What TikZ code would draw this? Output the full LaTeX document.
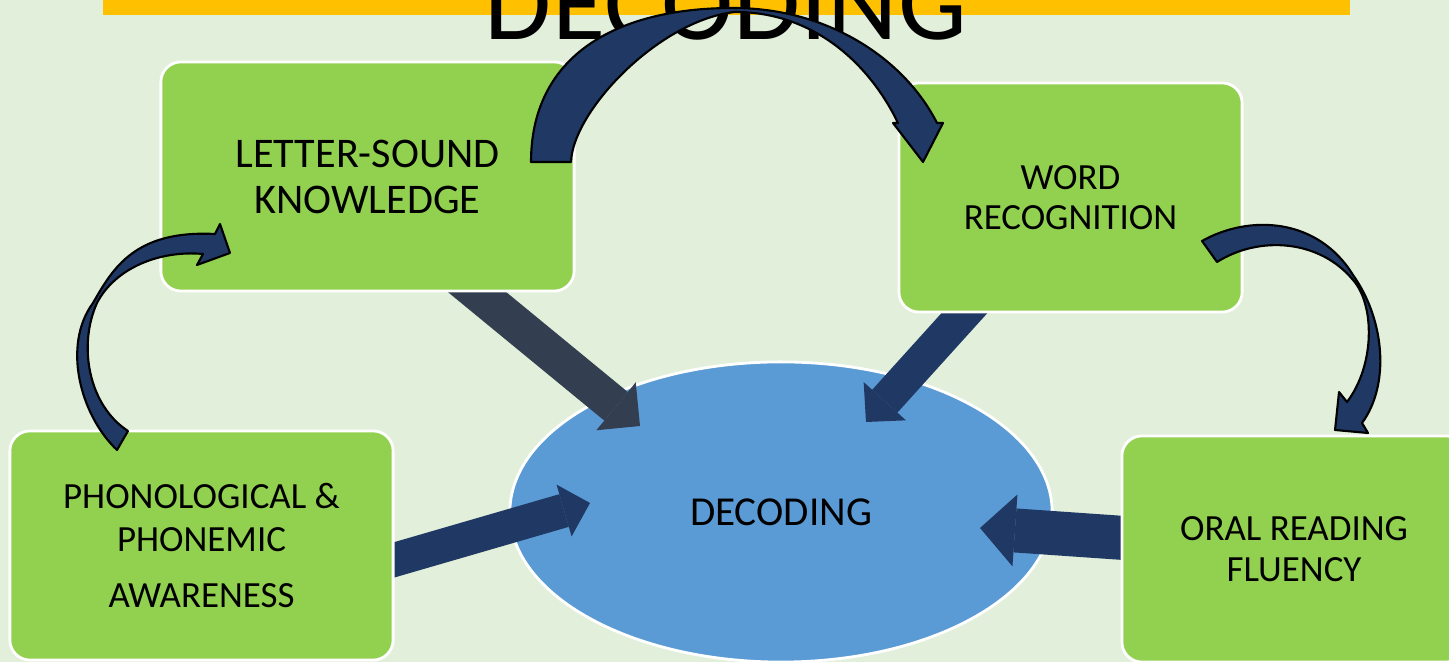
\documentclass[tikz,border=0pt]{standalone}
\usepackage{fontspec}
\setmainfont{Carlito}
\usetikzlibrary{arrows.meta, calc, shapes.geometric}
\definecolor{bgcol}{HTML}{E2EFDA}
\definecolor{barcol}{HTML}{FFC000}
\definecolor{boxgreen}{HTML}{92D050}
\definecolor{ovalblue}{HTML}{5B9BD5}
\definecolor{navy}{HTML}{1F3864}
\definecolor{slate}{HTML}{333F50}
\pgfdeclarelayer{back}
\pgfdeclarelayer{mid}
\pgfsetlayers{back,mid,main}
\tikzset{
  greenbox/.style={draw=white, line width=0.8pt, fill=boxgreen, rounded corners=0.2cm, align=center, inner sep=0pt},
  curvedarrow/.style={fill=navy, draw=black, line width=0.6pt, line join=round},
}

\begin{document}
\begin{tikzpicture}[x=0.01cm, y=-0.01cm]
    \useasboundingbox (0,0) rectangle (1449,662);
    \clip (0,0) rectangle (1449,662);

    % background, title and centre oval
    \begin{pgfonlayer}{back}
        \fill[bgcol] (0,0) rectangle (1449,662);
        \fill[barcol] (103,0) rectangle (1350,15);
        \node[anchor=base, font=\fontsize{31}{37}\selectfont, inner sep=0pt] (title) at (726,40) {DECODING};
        \node[ellipse, draw=white, line width=0.8pt, fill=ovalblue, minimum width=5.42cm, minimum height=3cm, font=\fontsize{11.7}{14}\selectfont] (dec) at (781,512) {DECODING};
    \end{pgfonlayer}

    % boxes
    \node[greenbox, minimum width=4.13cm, minimum height=2.29cm, font=\fontsize{12}{13.1}\selectfont] (lsk) at (367.5,176.5) {LETTER-SOUND\\KNOWLEDGE};
    \node[greenbox, minimum width=3.43cm, minimum height=2.29cm, font=\fontsize{10.5}{11.4}\selectfont] (wr) at (1070.5,197.5) {WORD\\RECOGNITION};
    \node[greenbox, minimum width=3.83cm, minimum height=2.29cm, font=\fontsize{10.5}{12}\selectfont] (phon) at (201.5,545.5) {PHONOLOGICAL \&\\PHONEMIC\\[3.9pt]AWARENESS};
    \node[greenbox, minimum width=3.44cm, minimum height=2.26cm, font=\fontsize{10.5}{11.7}\selectfont] (orf) at (1294,549) {ORAL READING\\FLUENCY};

    % block arrows into the oval
    \begin{pgfonlayer}{mid}
        \coordinate (tip1) at ($(dec.center)+(-141,-86)$);
        \coordinate (tip2) at ($(dec.center)+(85,-90)$);
        \coordinate (tip3) at ($(dec.center)+(-191,-9)$);
        \coordinate (tip4) at ($(dec.center)+(199,16)$);
        \draw[slate, line width=0.37cm, -{Triangle[length=0.31cm, width=0.62cm, line width=0pt]}] ($(lsk.south)+(82,-23)$) -- (tip1);
        \draw[navy, line width=0.34cm, -{Triangle[length=0.28cm, width=0.57cm, line width=0pt]}] ($(wr.south)+(-86.5,-22)$) -- (tip2);
        \draw[navy, line width=0.34cm, -{Triangle[length=0.27cm, width=0.54cm, line width=0pt]}] ($(phon.east)+(-18,19.5)$) -- (tip3);
        \draw[navy, line width=0.44cm, -{Triangle[length=0.35cm, width=0.72cm, line width=0pt]}] ($(orf.west)+(18,-10)$) -- (tip4);
    \end{pgfonlayer}

    % curved arrows between boxes
    \draw[curvedarrow] (531,162) .. controls (531,60) and (610,8) .. (733,8)
        .. controls (830,8) and (905,60) .. (937,123) -- (943,123) -- (923,162) -- (893,123) -- (898,123)
        .. controls (870,65) and (815,12) .. (735,12) .. controls (660,20) and (573,110) .. (571,162) -- cycle;
    \draw[curvedarrow] (117,450) .. controls (80,415) and (62,345) .. (93,303)
        .. controls (113,268) and (135,230) .. (215,234) -- (220,224) -- (230,253) -- (197,265) -- (203,254)
        .. controls (160,250) and (115,268) .. (97,303) .. controls (78,345) and (88,405) .. (128,431) -- cycle;
    \draw[curvedarrow] (1202,241) .. controls (1250,214) and (1318,218) .. (1353,275)
        .. controls (1385,320) and (1390,385) .. (1362,423) -- (1368,433) -- (1335,430) -- (1339,392) -- (1347,402)
        .. controls (1375,365) and (1375,305) .. (1353,280) .. controls (1320,240) and (1260,235) .. (1217,262) -- cycle;
\end{tikzpicture}
\end{document}
